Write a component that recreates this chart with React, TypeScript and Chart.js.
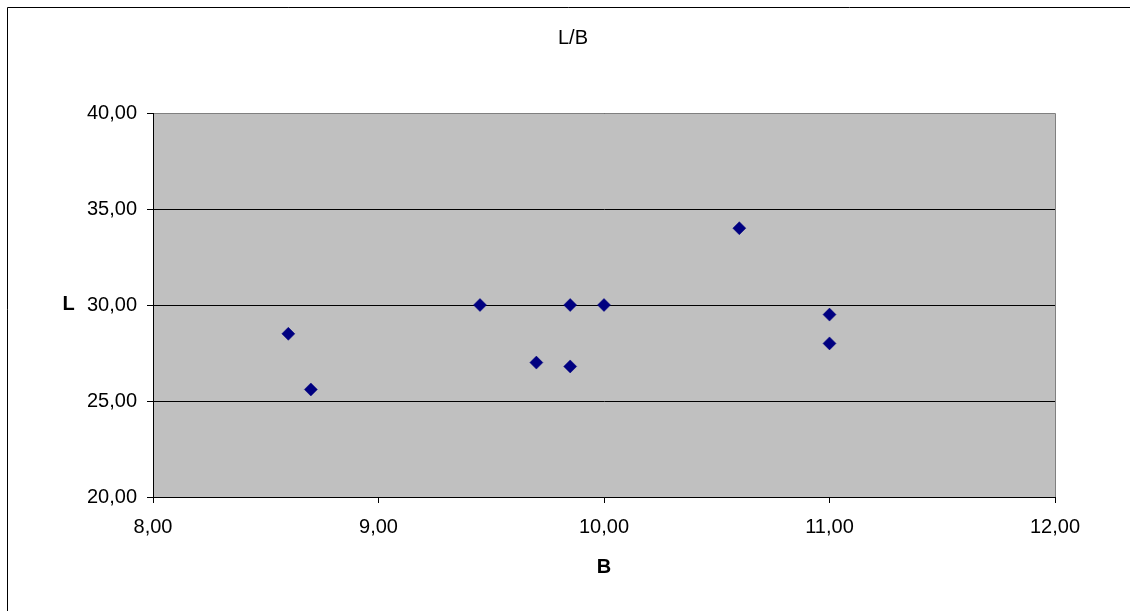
import React, { useEffect, useRef } from "react";
import { Chart, registerables } from "chart.js";

Chart.register(...registerables);

const chartTitle = "L/B";
const xAxisTitle = "B";
const yAxisTitle = "L";
const bValues = [8.6, 8.7, 9.45, 9.7, 9.85, 9.85, 10.0, 10.6, 11.0, 11.0];
const lValues = [28.5, 25.6, 30.0, 27.0, 30.0, 26.8, 30.0, 34.0, 29.5, 28.0];
const xMin = 8, xMax = 12, xStep = 1;
const yMin = 20, yMax = 40, yStep = 5;

const FONT = "'Liberation Sans', Arial, sans-serif";
const FS = 20;
const fmt = (v: number) => Number(v).toFixed(2).replace(".", ",");

export default function App() {
  const ref = useRef<HTMLCanvasElement | null>(null);

  useEffect(() => {
    if (!ref.current) return;
    const decor = {
      id: "decor",
      afterLayout(chart: any) {
        // widen the label clip area of the y axis so tick labels are not cut
        const y = chart.scales.y;
        if (y) y.left = 20;
      },
      beforeDraw(chart: any) {
        const { ctx, chartArea: a } = chart;
        ctx.save();
        ctx.fillStyle = "#ffffff";
        ctx.fillRect(0, 0, chart.width, chart.height);
        ctx.fillStyle = "#C0C0C0";
        ctx.fillRect(a.left, a.top, a.right - a.left, a.bottom - a.top);
        ctx.restore();
      },
      afterDraw(chart: any) {
        const { ctx, chartArea: a } = chart;
        ctx.save();
        ctx.strokeStyle = "#808080";
        ctx.lineWidth = 1;
        ctx.beginPath();
        ctx.moveTo(a.left + 1, Math.round(a.top) + 0.5);
        ctx.lineTo(Math.round(a.right) + 0.5, Math.round(a.top) + 0.5);
        ctx.lineTo(Math.round(a.right) + 0.5, a.bottom);
        ctx.stroke();
        // outer frame
        ctx.strokeStyle = "#000000";
        ctx.beginPath();
        ctx.moveTo(7.5, chart.height);
        ctx.lineTo(7.5, 7.5);
        ctx.lineTo(chart.width, 7.5);
        ctx.stroke();
        // y-axis title (upright)
        ctx.fillStyle = "#000000";
        ctx.font = `bold ${FS}px ${FONT}`;
        ctx.textAlign = "center";
        ctx.textBaseline = "middle";
        ctx.fillText(yAxisTitle, 68.5, (a.top + a.bottom) / 2 - 1);
        ctx.restore();
      },
    };

    const chart = new Chart(ref.current, {
      type: "scatter",
      data: {
        datasets: [
          {
            label: chartTitle,
            data: bValues.map((b, i) => ({ x: b, y: lValues[i] })),
            pointStyle: "rectRot",
            pointRadius: 6.5,
            pointHoverRadius: 6.5,
            pointBackgroundColor: "#000080",
            pointBorderColor: "#000080",
            pointBorderWidth: 0.5,
          },
        ],
      },
      options: {
        responsive: false,
        animation: false,
        layout: { padding: { left: 91, right: 75, top: 0, bottom: 32 } },
        plugins: {
          legend: { display: false },
          tooltip: { enabled: false },
          title: {
            display: true,
            text: chartTitle,
            color: "#000000",
            font: { family: FONT, size: FS, weight: "normal" },
            padding: { top: 26.3, bottom: 62.7 },
          },
        },
        scales: {
          x: {
            type: "linear",
            min: xMin,
            max: xMax,
            afterFit: (s: any) => { s.height = 82; },
            ticks: {
              stepSize: xStep,
              color: "#000000",
              font: { family: FONT, size: FS },
              padding: 12,
              maxRotation: 0,
              callback: (v: any) => fmt(v),
            },
            grid: {
              drawOnChartArea: false,
              drawTicks: true,
              tickLength: 6,
              color: "#000000",
            },
            border: { display: true, color: "#000000", width: 1 },
            title: {
              display: true,
              text: xAxisTitle,
              color: "#000000",
              font: { family: FONT, size: FS, weight: "bold" },
              padding: { top: 0, bottom: 0 },
            },
          },
          y: {
            type: "linear",
            min: yMin,
            max: yMax,
            afterFit: (s: any) => { s.width = 62; },
            ticks: {
              stepSize: yStep,
              color: "#000000",
              font: { family: FONT, size: FS },
              padding: 10,
              callback: (v: any) => fmt(v),
            },
            grid: {
              drawOnChartArea: true,
              drawTicks: true,
              tickLength: 6,
              color: "#000000",
            },
            border: { display: true, color: "#000000", width: 1 },
          },
        },
      },
      plugins: [decor],
    } as any);
    return () => chart.destroy();
  }, []);

  return (
    <div style={{ position: "absolute", left: 0, top: 0, width: 1130, height: 611 }}>
      <canvas ref={ref} width={1130} height={611} style={{ display: "block" }} />
    </div>
  );
}
